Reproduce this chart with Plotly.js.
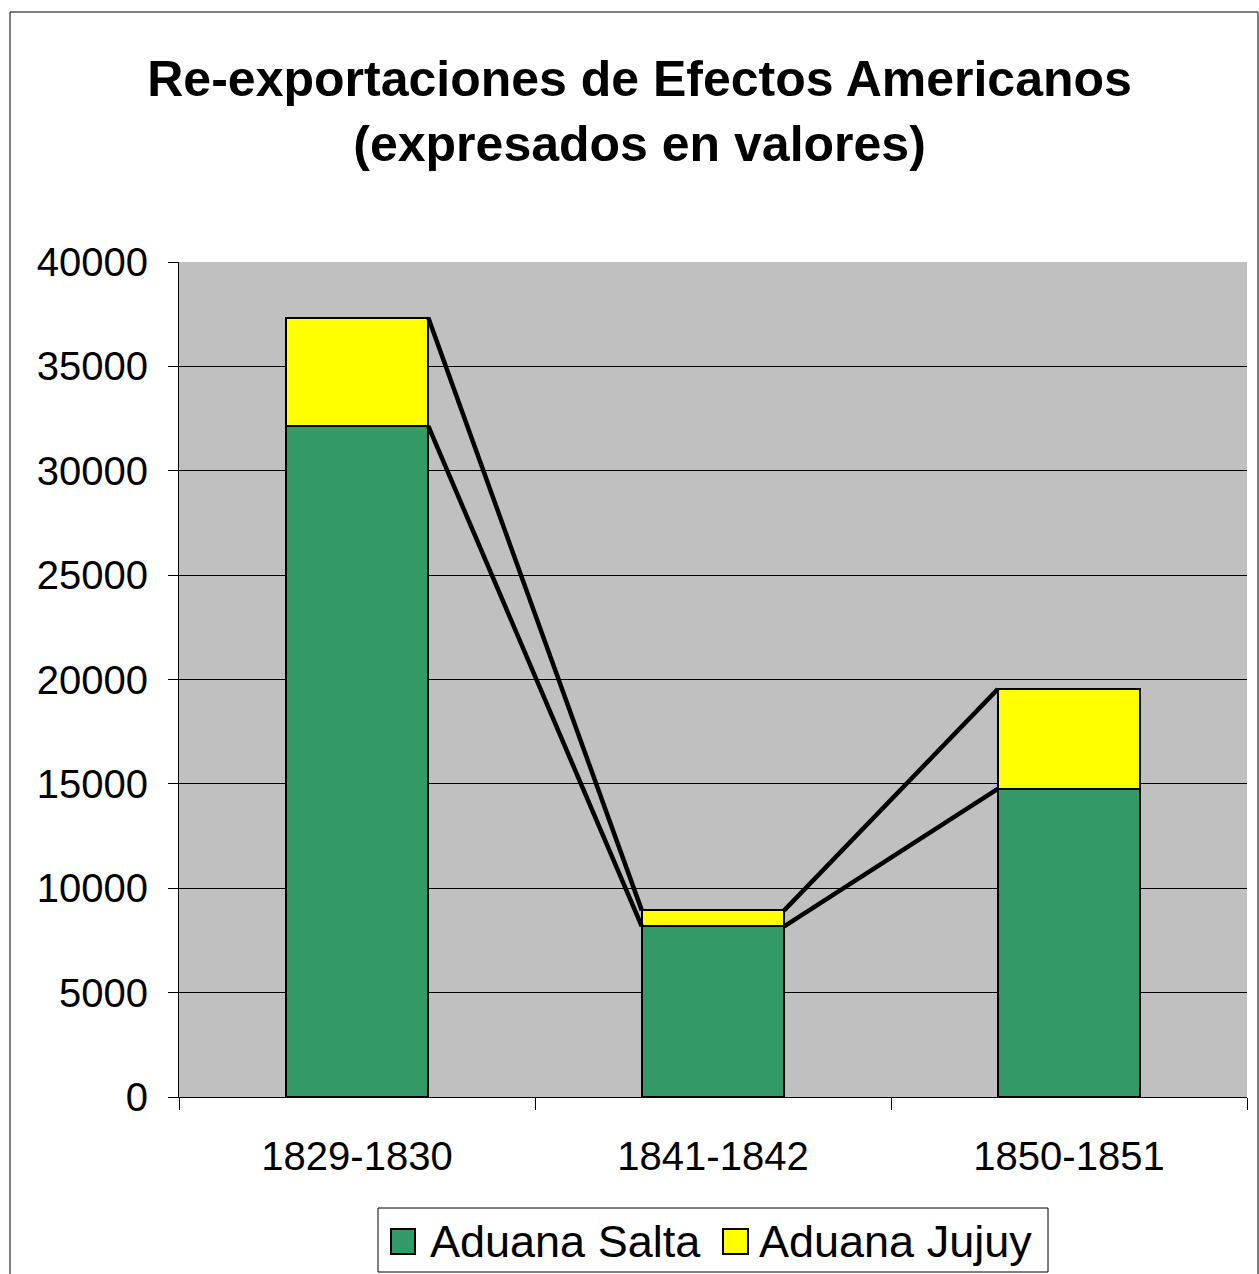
<!DOCTYPE html>
<html>
<head>
<meta charset="utf-8">
<script src="https://cdn.plot.ly/plotly-3.0.1.min.js"></script>
<style>html,body{margin:0;padding:0;background:#fff;}#chart{width:1259px;height:1274px;}</style>
</head>
<body>
<div id="chart"></div>
<script>
var categories = ["1829-1830", "1841-1842", "1850-1851"];
var salta = [32150, 8170, 14760];
var jujuy = [5190, 770, 4780];
var seriesNames = ["Aduana Salta", "Aduana Jujuy"];
var seriesColors = ["#339966", "#FFFF00"];
var yTicks = [0, 5000, 10000, 15000, 20000, 25000, 30000, 35000, 40000];

var FONT = "Liberation Sans, Arial, sans-serif";
var pos = categories.map(function (_, i) { return i; });
var barW = 0.4;

// pixel -> paper helpers (plot area: x 179..1247, y 262..1097)
function px(X) { return (X - 179) / 1068; }
function py(Y) { return (1097 - Y) / 835; }

var traces = [
  { type: "bar", name: seriesNames[0], x: pos, y: salta, width: barW, showlegend: false,
    marker: { color: seriesColors[0], line: { color: "#000", width: 2 } }, xaxis: "x", yaxis: "y" },
  { type: "bar", name: seriesNames[1], x: pos, y: jujuy, width: barW, showlegend: false,
    marker: { color: seriesColors[1], line: { color: "#000", width: 2 } }, xaxis: "x", yaxis: "y" }
];

// series lines connecting the tops of each stacked segment
var cumSalta = salta.slice();
var cumTotal = salta.map(function (v, i) { return v + jujuy[i]; });
[cumSalta, cumTotal].forEach(function (arr) {
  var xs = [], ys = [];
  for (var i = 0; i < arr.length - 1; i++) {
    xs.push(pos[i] + barW / 2, pos[i + 1] - barW / 2, null);
    ys.push(arr[i], arr[i + 1], null);
  }
  traces.push({ type: "scatter", mode: "lines", x: xs, y: ys, showlegend: false,
    line: { color: "#000", width: 4.5 }, hoverinfo: "skip", xaxis: "x", yaxis: "y" });
});

// invisible trace on overlay axis for boundary ticks
traces.push({ type: "scatter", mode: "markers", x: [0], y: [0], xaxis: "x2", yaxis: "y",
  marker: { opacity: 0 }, showlegend: false, hoverinfo: "skip" });

var shapes = [
  { type: "rect", xref: "paper", yref: "paper",
    x0: px(10), x1: px(1258), y0: py(1300), y1: py(12),
    line: { color: "#000", width: 1 }, fillcolor: "rgba(0,0,0,0)", layer: "below" },
  // legend box
  { type: "rect", xref: "paper", yref: "paper",
    x0: px(378), x1: px(1048), y0: py(1272), y1: py(1208),
    line: { color: "#000", width: 1 }, fillcolor: "#fff" },
  { type: "rect", xref: "paper", yref: "paper",
    x0: px(391), x1: px(415), y0: py(1254), y1: py(1229),
    line: { color: "#000", width: 2 }, fillcolor: seriesColors[0] },
  { type: "rect", xref: "paper", yref: "paper",
    x0: px(723), x1: px(748), y0: py(1254), y1: py(1229),
    line: { color: "#000", width: 2 }, fillcolor: seriesColors[1] }
];

var annotations = [
  { xref: "paper", yref: "paper", x: px(428), y: py(1241), xanchor: "left", yanchor: "middle",
    text: seriesNames[0], showarrow: false, font: { family: FONT, size: 45, color: "#000" } },
  { xref: "paper", yref: "paper", x: px(757), y: py(1241), xanchor: "left", yanchor: "middle",
    text: seriesNames[1], showarrow: false, font: { family: FONT, size: 45, color: "#000" } }
];

var layout = {
  width: 1259, height: 1274,
  margin: { l: 179, r: 12, t: 262, b: 177, autoexpand: false },
  paper_bgcolor: "#FFFFFF",
  plot_bgcolor: "#C0C0C0",
  barmode: "stack",
  showlegend: false,
  font: { family: FONT, color: "#000" },
  title: {
    text: "<b>Re-exportaciones de Efectos Americanos<br>(expresados en valores)</b>",
    font: { family: FONT, size: 50, color: "#000" },
    x: 0.508, xanchor: "center", y: 1 - 96 / 1274, yanchor: "middle"
  },
  xaxis: {
    range: [-0.5, 2.5], tickmode: "array", tickvals: pos, ticktext: categories,
    ticks: "", showgrid: false, zeroline: false, showline: true, linecolor: "#000", linewidth: 1,
    tickfont: { family: FONT, size: 40 }, ticklabelstandoff: 24, fixedrange: true
  },
  xaxis2: {
    overlaying: "x", range: [-0.5, 2.5], tickmode: "array", tickvals: [-0.5, 0.5, 1.5, 2.5],
    ticks: "outside", ticklen: 12, tickcolor: "#000", tickwidth: 1, showticklabels: false,
    showgrid: false, zeroline: false, side: "bottom", anchor: "y"
  },
  yaxis: {
    range: [0, 40000], tickmode: "array", tickvals: yTicks,
    ticktext: yTicks.map(function (v) { return String(v); }),
    ticks: "outside", ticklen: 10, tickcolor: "#000",
    showgrid: true, gridcolor: "#000", gridwidth: 1,
    showline: true, linecolor: "#000", linewidth: 1, zeroline: false,
    tickfont: { family: FONT, size: 40 }, ticklabelstandoff: 12, fixedrange: true
  },
  shapes: shapes,
  annotations: annotations
};

Plotly.newPlot("chart", traces, layout, { displayModeBar: false, staticPlot: true });
</script>
</body>
</html>
